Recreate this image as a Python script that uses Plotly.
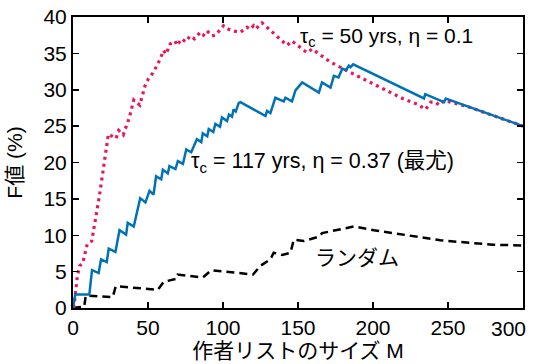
import plotly.graph_objects as go

# --- data ---
mle_M = [0, 1.5, 10.9, 12.7, 17.1, 18.7, 22.5, 23.8, 28.3, 31.0, 35.4, 36.5, 40.5, 42.1, 44.8,
         48.3, 51.0, 53.7, 55.4, 58.8, 59.9, 63.2, 64.3, 68.3, 69.9, 73.3, 75.5, 78.8, 82.6,
         85.5, 86.5, 89.5, 90.5, 93.5, 94.9, 98.0, 99.3, 102.7, 104.0, 106.0, 107.0, 108.5,
         110.5, 111.6, 128.3, 129.4, 131.6, 134.9, 140.5, 141.6, 146.0, 148.3, 149.5, 152.8,
         163.9, 166.0, 171.7, 173.9, 177.0, 179.5, 182.0, 183.9, 185.0, 186.8, 234.0, 234.8,
         247.4, 248.5, 300.0]
mle_F = [0, 1.86, 1.86, 5.2, 4.8, 6.7, 6.3, 8.15, 7.7, 10.7, 10.1, 11.7, 11.2, 12.8, 15.1,
         14.5, 16.1, 15.6, 18.1, 17.7, 19.0, 18.5, 19.5, 19.1, 20.2, 19.8, 21.8, 21.4, 23.2,
         22.8, 24.0, 23.6, 24.6, 24.2, 25.3, 24.9, 26.2, 25.7, 26.6, 26.3, 27.3, 27.0,
         28.2, 28.3, 26.4, 27.1, 26.8, 28.9, 28.4, 28.9, 28.4, 29.9, 30.2, 31.0,
         29.6, 31.0, 30.3, 31.9, 31.7, 32.9, 32.7, 33.3, 33.1, 33.5, 28.8, 29.4,
         28.3, 28.8, 25.0]

tau50_M = [0.5, 3.0, 4.5, 6.5, 9.5, 12.5, 17.6, 21.0, 23.6, 28.7, 30.5, 33.5, 37.6, 40.5,
           44.5, 48.1, 50.3, 53.6, 58.1, 60.3, 62.0, 64.8, 68.1, 69.3, 72.6, 75.0, 78.2,
           81.0, 84.8, 87.0, 89.3, 92.6, 95.0, 100.4, 102.7, 106.0, 111.6, 116.0, 118.0,
           120.4, 122.0, 126.0, 133.8, 142.7, 146.0, 156.0, 159.4, 171.7, 182.8, 191.7,
           202.9, 211.8, 220.6, 229.6, 235.1, 238.5, 241.8, 244.0, 247.4, 263.0, 300.0]
tau50_F = [0, 4.5, 5.8, 6.2, 8.8, 9.2, 15.4, 20.0, 23.9, 23.3, 24.4, 23.8, 26.2, 28.6,
           27.9, 30.6, 31.5, 32.4, 34.2, 35.4, 34.9, 36.3, 36.7, 36.1, 37.0, 36.6, 37.4,
           37.0, 37.9, 37.5, 38.1, 37.4, 37.5, 38.8, 38.4, 38.1, 37.9, 38.6, 38.3,
           38.8, 38.4, 39.2, 37.7, 36.1, 36.7, 35.1, 35.6, 33.8, 32.6, 31.7,
           30.5, 29.6, 28.7, 28.0, 27.3, 28.3, 28.3, 27.9, 28.5, 27.7, 25.0]

rand_M = [0, 7.5, 8.5, 26.5, 28.5, 56.6, 60.5, 68.8, 69.8, 86.6, 92.2, 120.0, 125.0, 131.6,
          133.8, 139.4, 145.0, 147.2, 153.8, 159.4, 163.9, 166.1, 178.4, 187.2, 200.6, 245.0,
          280.0, 300.0]
rand_F = [0, 0.2, 1.7, 1.5, 3.0, 2.5, 3.6, 4.0, 4.6, 4.2, 5.2, 4.6, 5.8, 6.7,
          7.6, 7.3, 7.6, 9.4, 9.2, 9.5, 9.8, 10.3, 10.8, 11.2, 10.7, 9.3,
          8.7, 8.6]

x_ticks = [0, 50, 100, 150, 200, 250, 300]
x_ticktext = ["0", "50", "100", "150", "200", "250", ""]
last_x_label = "300"
y_ticks = [0, 5, 10, 15, 20, 25, 30, 35, 40]

FONT = "Liberation Sans, Arial, Noto Sans CJK JP, sans-serif"
TXT = 21

fig = go.Figure()
fig.add_trace(go.Scatter(x=rand_M, y=rand_F, mode="lines",
                         line=dict(color="black", width=2.5, dash="8px,5px"),
                         showlegend=False, hoverinfo="skip"))
fig.add_trace(go.Scatter(x=tau50_M, y=tau50_F, mode="lines",
                         line=dict(color="#e8175d", width=3.2, dash="3px,4px"),
                         showlegend=False, hoverinfo="skip"))
fig.add_trace(go.Scatter(x=mle_M, y=mle_F, mode="lines",
                         line=dict(color="#0072b5", width=2.5),
                         showlegend=False, hoverinfo="skip"))

ann_font = dict(family=FONT, size=TXT, color="black")
fig.add_annotation(x=208.8, y=37.3, text="τ<sub>c</sub> = 50 yrs, η = 0.1",
                   showarrow=False, font=ann_font)
fig.add_annotation(x=166.0, y=20.0, text="τ<sub>c</sub> = 117 yrs, η = 0.37 (最尤)",
                   showarrow=False, font=dict(family=FONT, size=21.5, color="black"))
fig.add_annotation(x=189.4, y=6.95, text="ランダム",
                   showarrow=False, font=ann_font)
# last x tick label, nudged inside the page like the reference
fig.add_annotation(x=1.0, xref="paper", y=0, yref="paper", xanchor="right", yanchor="top",
                   xshift=5, yshift=-7, text=last_x_label, showarrow=False,
                   font=dict(family=FONT, size=TXT, color="black"))

axis_common = dict(showline=True, linecolor="black", linewidth=2, mirror="ticks",
                   ticks="inside", ticklen=6, tickwidth=1.5, tickcolor="black",
                   showgrid=False, zeroline=False, automargin=False,
                   ticklabeloverflow="allow",
                   tickfont=dict(family=FONT, size=TXT, color="black"))

fig.update_xaxes(range=[0, 300], tickvals=x_ticks, ticktext=x_ticktext,
                 title=dict(text="作者リストのサイズ M", font=dict(family=FONT, size=TXT, color="black"),
                            standoff=0),
                 **axis_common)
fig.update_yaxes(range=[0, 40], tickvals=y_ticks,
                 title=dict(text="F値 (%)", font=dict(family=FONT, size=TXT, color="black"),
                            standoff=15),
                 **axis_common)

fig.update_layout(width=536, height=364,
                  margin=dict(l=73, r=13, t=17, b=56),
                  plot_bgcolor="white", paper_bgcolor="white",
                  font=dict(family=FONT), hovermode=False)

# remove the browser's default 8px page margin so the figure fills the window exactly
fig.write_html("out.html", config={"displayModeBar": False, "staticPlot": True},
               post_script="document.body.style.margin='0';document.body.style.overflow='hidden';")
